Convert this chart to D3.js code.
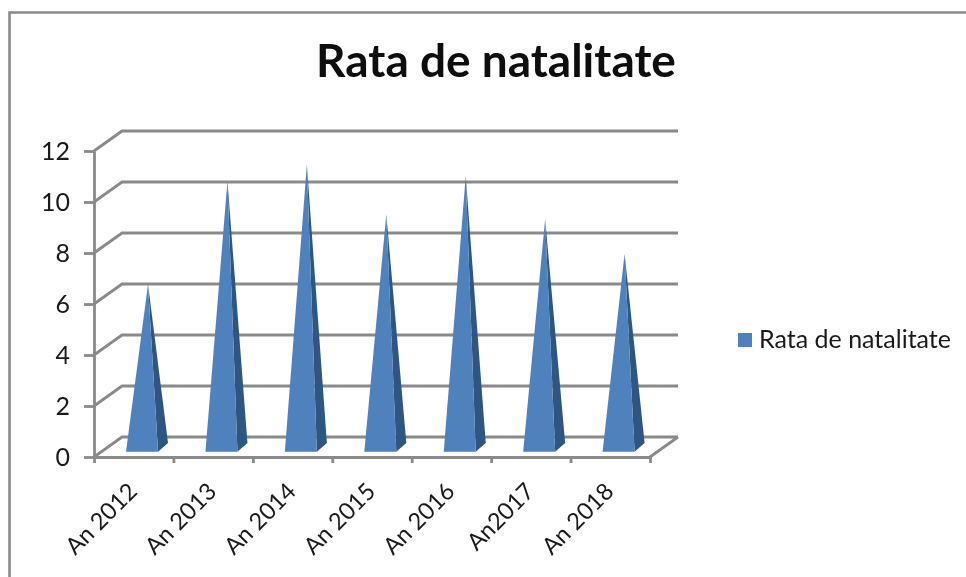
<!DOCTYPE html>
<html><head><meta charset="utf-8">
<script src="https://cdn.jsdelivr.net/npm/d3@7"></script>
<style>html,body{margin:0;background:#fff}svg{display:block;filter:blur(0.4px)}</style>
</head><body>
<svg id="c" width="966" height="577"></svg>
<script>
const categories = ["An 2012","An 2013","An 2014","An 2015","An 2016","An2017","An 2018"];
const seriesName = "Rata de natalitate";
const values = [6.4,10.45,11.1,9.15,10.65,8.95,7.6];
const yTicks = [0,2,4,6,8,10,12];

const svg = d3.select("#c");
const grey = "#8a8a8a", front = "#4f81bd", side = "#2f5680", ink = "#1a1a1a";
const font = "Lato, 'Open Sans', sans-serif";

const y = d3.scaleLinear().domain([0,12]).range([457,151]);
const xIdx = d3.scaleLinear().domain([0,7]).range([94,650]);
const dx = 28, dy = -20;

// chart border
svg.append("path").attr("d","M9.5,577V12.5H966").attr("fill","none").attr("stroke",grey).attr("stroke-width",2.6);

// title
svg.append("text").attr("x",496).attr("y",77).attr("text-anchor","middle")
  .attr("font-family",font).attr("font-weight",700).attr("font-size",46).attr("fill","#0d0d0d").text(seriesName);

// walls
const g = svg.append("g").attr("fill","none").attr("stroke",grey).attr("stroke-width",2.8);
g.selectAll(".grid").data(yTicks).join("path").attr("class","grid")
  .attr("d",d=>`M${xIdx(0)},${y(d)}L${xIdx(0)+dx},${y(d)+dy}H${xIdx(7)+dx}`);
g.append("path").attr("d",`M${xIdx(7)},${y(0)}L${xIdx(7)+dx},${y(0)+dy}`);

// axes
const axL = svg.append("g").attr("transform",`translate(${xIdx(0)},0)`)
  .call(d3.axisLeft(y).tickValues(yTicks).tickSize(10).tickPadding(14).tickSizeOuter(0));
const axB = svg.append("g").attr("transform",`translate(0,${y(0)})`)
  .call(d3.axisBottom(xIdx).tickValues(d3.range(8)).tickSize(6).tickFormat("").tickSizeOuter(0));
[axL,axB].forEach(a=>{
  a.selectAll("path,line").attr("stroke",grey).attr("stroke-width",2.8);
});
axL.selectAll("text").attr("font-family",font).attr("font-size",25).attr("fill",ink);

// x labels
svg.append("g").selectAll("text").data(categories).join("text")
  .attr("transform",(d,i)=>`translate(${xIdx(i+0.5)-1},${y(0)+30}) rotate(-45)`)
  .attr("text-anchor","end").attr("dy","0.35em")
  .attr("font-family",font).attr("font-size",23.5).attr("fill",ink).text(d=>d);

// pyramids
const band = xIdx(1)-xIdx(0);
const fl = .403*band, fr = .806*band, br = .932*band, ax = .68*band;
const baseFront = y(0)-5.3, baseBack = y(0)-14, baseMid = y(0)-9.5;
const bars = svg.append("g").selectAll("g").data(values).join("g");
bars.append("path").attr("fill",side).attr("d",(v,i)=>{
  const x0=xIdx(i);
  return `M${x0+fr},${baseFront}L${x0+br},${baseBack}L${x0+ax},${y(v)-9.5}Z`;
});
bars.append("path").attr("fill",front).attr("d",(v,i)=>{
  const x0=xIdx(i);
  return `M${x0+fl},${baseFront}L${x0+fr},${baseFront}L${x0+ax},${y(v)-9.5}Z`;
});

// legend
svg.append("rect").attr("x",738).attr("y",333).attr("width",14).attr("height",14).attr("fill",front);
svg.append("text").attr("x",759).attr("y",348).attr("font-family",font).attr("font-size",25).attr("fill",ink).text(seriesName);
</script>
</body></html>
